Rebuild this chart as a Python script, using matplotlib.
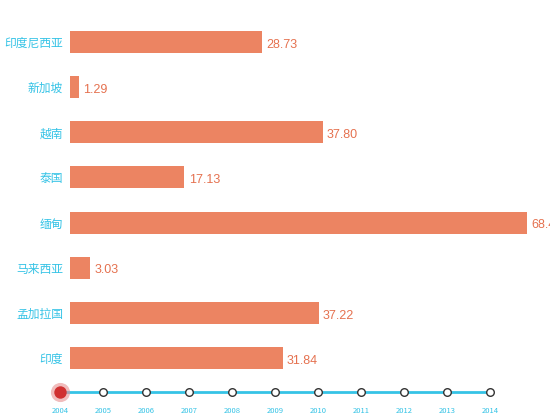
import matplotlib
matplotlib.use("Agg")
import matplotlib.pyplot as plt

plt.rcParams['font.family'] = ['Noto Sans CJK SC', 'DejaVu Sans']

# data (top to bottom in the picture)
countries = ["印度尼西亚", "新加坡", "越南", "泰国", "缅甸", "马来西亚", "孟加拉国", "印度"]
values = [28.73, 1.29, 37.80, 17.13, 68.43, 3.03, 37.22, 31.84]
years = list(range(2004, 2015))
current_year = 2004

BAR = "#ec8462"
LABEL = "#e5714f"
CYAN = "#35c3e6"

W, H = 550, 420
fig = plt.figure(figsize=(W / 100, H / 100), dpi=100)

# bar axes: left edge at x=70px, 6.68 px per unit
ax = fig.add_axes([70 / W, (H - 380.5) / H, 480 / W, 361 / H])
ypos = list(range(len(countries)))[::-1]
ax.barh(ypos, values, height=0.49, color=BAR)
ax.set_xlim(0, 480 / 6.68)
ax.set_ylim(-0.5, len(countries) - 0.5)
for y, v in zip(ypos, values):
    ax.text(v + 0.65, y - 0.06, f"{v:.2f}", va="center", ha="left", fontsize=9,
            family=["Liberation Sans", "DejaVu Sans"], color=LABEL, clip_on=False)
ax.set_yticks(ypos)
ax.set_yticklabels(countries, fontsize=8.5, color=CYAN)
ax.tick_params(axis="y", length=0, pad=5)
ax.set_xticks([])
for s in ax.spines.values():
    s.set_visible(False)

# timeline
px = 43.0
tl = fig.add_axes([40 / W, 0, 470 / W, 40 / H])
tl.set_xlim(years[0] - 20 / px, years[-1] + 20 / px)
tl.set_ylim(0, 40)
tl.axis("off")
tl.plot(years, [28] * len(years), color=CYAN, lw=2, zorder=1)
others = [y for y in years if y != current_year]
tl.scatter(others, [28] * len(others), s=30, facecolor="white",
           edgecolor="#333333", linewidth=1, zorder=3)
tl.scatter([current_year], [28], s=190, color="#e89090", alpha=0.6, zorder=3, linewidth=0)
tl.scatter([current_year], [28], s=80, color="#d03030", zorder=4, linewidth=0)
for y in years:
    tl.text(y, 9, str(y), ha="center", va="center", fontsize=5.5, color=CYAN)

fig.savefig("out.png", dpi=100)
